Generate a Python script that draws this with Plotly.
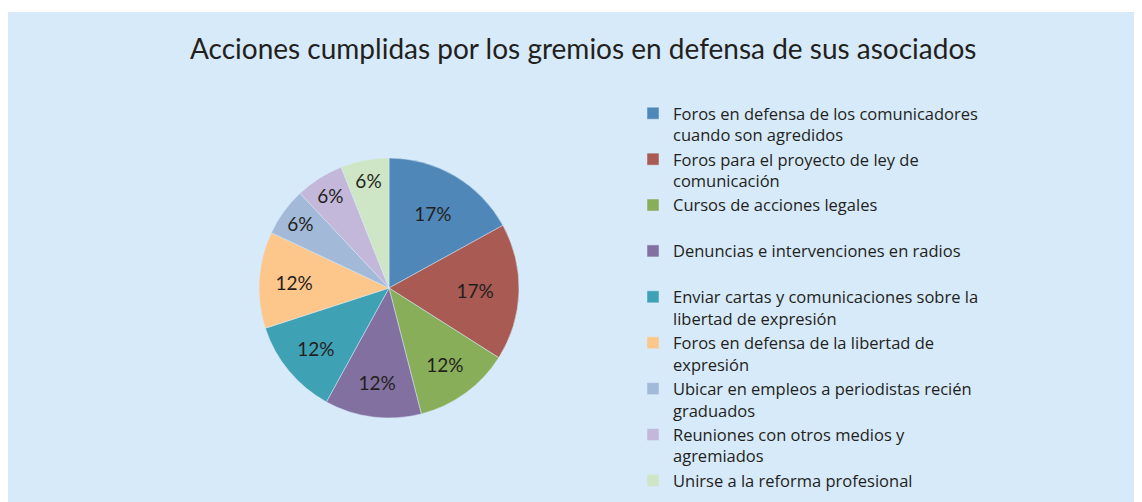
import plotly.graph_objects as go

title = "Acciones cumplidas por los gremios en defensa de sus asociados"
labels = [
    "Foros en defensa de los comunicadores<br>cuando son agredidos",
    "Foros para el proyecto de ley de<br>comunicación",
    "Cursos de acciones legales<br> ",
    "Denuncias e intervenciones en radios<br> ",
    "Enviar cartas y comunicaciones sobre la<br>libertad de expresión",
    "Foros en defensa de la libertad de<br>expresión",
    "Ubicar en empleos a periodistas recién<br>graduados",
    "Reuniones con otros medios y<br>agremiados",
    "Unirse a la reforma profesional",
]
values = [17, 17, 12, 12, 12, 12, 6, 6, 6]
colors = ["#4f88b8", "#a85a53", "#88ae5a", "#8270a0", "#3ea1b4",
          "#fdc68b", "#a2b9d8", "#c4b8da", "#cee6c5"]

# page body has an 8px margin; figure fills the rest of the 1142x502 window
OFF = 8
W, H = 1142 - OFF, 502 - OFF


def px(x):
    return (x - OFF) / W


def py(y):
    return 1 - (y - OFF) / H


cx, cy, r = 389, 288, 130

fig = go.Figure(go.Pie(
    labels=labels,
    values=values,
    sort=False,
    direction="clockwise",
    rotation=0,
    marker=dict(colors=colors, line=dict(color="#d7eaf9", width=0.5)),
    textinfo="percent",
    texttemplate="%{percent:.0%}",
    textposition="inside",
    insidetextorientation="horizontal",
    textfont=dict(family="Lato", size=19, color="#231f20"),
    hoverinfo="label+percent",
    domain=dict(x=[px(cx - r), px(cx + r)], y=[py(cy + r), py(cy - r)]),
))

fig.update_layout(
    width=W, height=H,
    margin=dict(l=0, r=0, t=0, b=0),
    paper_bgcolor="white",
    shapes=[dict(type="rect", xref="paper", yref="paper", x0=0, x1=1, y0=0, y1=py(12),
                 fillcolor="#d7eaf9", line=dict(width=0), layer="below")],
    annotations=[dict(text=title, x=px(583), y=py(48), xref="paper", yref="paper",
                      showarrow=False, xanchor="center", yanchor="middle",
                      font=dict(family="Lato", size=28, color="#231f20"))],
    legend=dict(x=px(633), y=py(96), xanchor="left", yanchor="top",
                bgcolor="rgba(0,0,0,0)", valign="top",
                font=dict(family="Open Sans", size=16.5, color="#231f20"),
                tracegroupgap=0),
    showlegend=True,
)

fig.write_html("out.html")
